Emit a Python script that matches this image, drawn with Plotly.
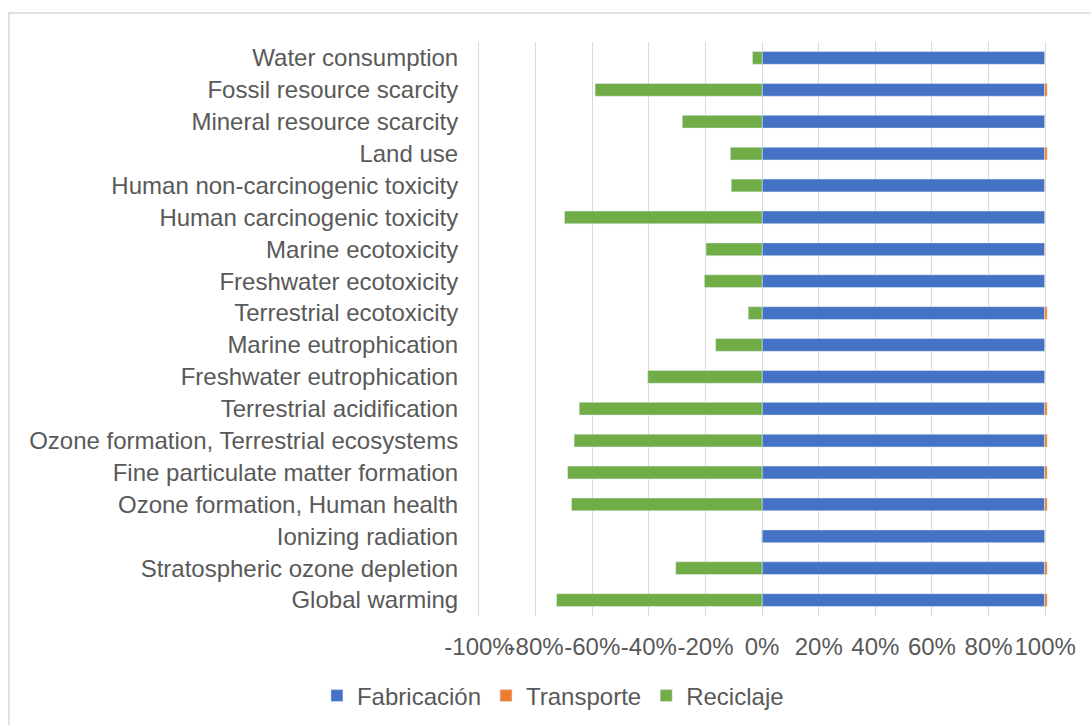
import plotly.graph_objects as go

categories = [
    "Global warming",
    "Stratospheric ozone depletion",
    "Ionizing radiation",
    "Ozone formation, Human health",
    "Fine particulate matter formation",
    "Ozone formation, Terrestrial ecosystems",
    "Terrestrial acidification",
    "Freshwater eutrophication",
    "Marine eutrophication",
    "Terrestrial ecotoxicity",
    "Freshwater ecotoxicity",
    "Marine ecotoxicity",
    "Human carcinogenic toxicity",
    "Human non-carcinogenic toxicity",
    "Land use",
    "Mineral resource scarcity",
    "Fossil resource scarcity",
    "Water consumption",
]

fabricacion = [99.8, 99.8, 99.9, 99.8, 99.8, 99.8, 99.8, 99.9, 99.9, 99.8, 99.9, 99.8,
               99.9, 99.8, 99.8, 99.9, 99.8, 99.9]
transporte = [0.9, 0.9, 0.1, 0.9, 0.9, 0.9, 0.9, 0.1, 0.1, 0.9, 0.1, 0.3,
              0.1, 0.3, 0.9, 0.1, 0.9, 0.1]
reciclaje = [-72.6, -30.5, -0.2, -67.3, -68.7, -66.4, -64.6, -40.4, -16.4, -4.9, -20.4, -19.8,
             -69.8, -10.9, -11.2, -28.2, -59.0, -3.4]

tick_vals = [-100, -80, -60, -40, -20, 0, 20, 40, 60, 80, 100]
tick_text = ["-100%", "-80%", "-60%", "-40%", "-20%", "0%", "20%", "40%", "60%", "80%", "100%"]

FONT = "Liberation Sans, Arial, sans-serif"
TXT = "#595959"
GRID = "#D9D9D9"

fig = go.Figure()
fig.add_trace(go.Bar(y=categories, x=fabricacion, name="Fabricación", orientation="h",
                     marker=dict(color="#4472C4")))
fig.add_trace(go.Bar(y=categories, x=transporte, name="Transporte", orientation="h",
                     marker=dict(color="#ED7D31")))
fig.add_trace(go.Bar(y=categories, x=reciclaje, name="Reciclaje", orientation="h",
                     marker=dict(color="#70AD47")))

W, H = 1091, 725
PX_PER_UNIT = 566 / 200.0
L, T, B = 479, 42, 109
R = 46 - PX_PER_UNIT * 1.0
pw = W - L - R
ph = H - T - B

def px_x(x):
    return (x - L) / pw

def px_y(y):
    return (H - B - y) / ph

fig.update_layout(
    width=W, height=H,
    margin=dict(l=L, r=R, t=T, b=B, autoexpand=False),
    barmode="relative",
    bargap=0.6,
    plot_bgcolor="white",
    paper_bgcolor="white",
    font=dict(family=FONT, size=24, color=TXT),
    showlegend=True,
    legend=dict(
        orientation="h",
        x=px_x(317), xanchor="left",
        y=px_y(696), yanchor="middle",
        font=dict(family=FONT, size=24, color=TXT),
        traceorder="normal",
        bgcolor="rgba(0,0,0,0)",
    ),
    xaxis=dict(
        range=[-100, 101],
        tickvals=tick_vals,
        ticktext=tick_text,
        tickangle=0,
        showgrid=True,
        gridcolor=GRID,
        gridwidth=1,
        zeroline=True,
        zerolinecolor=GRID,
        zerolinewidth=1,
        showline=False,
        ticks="",
        ticklabelstandoff=14,
        tickfont=dict(family=FONT, size=24, color=TXT),
        fixedrange=True,
    ),
    yaxis=dict(
        type="category",
        categoryorder="array",
        categoryarray=categories,
        showgrid=False,
        zeroline=False,
        showline=True,
        linecolor=GRID,
        linewidth=1,
        ticks="",
        ticklabelstandoff=15,
        tickfont=dict(family=FONT, size=24, color=TXT),
        fixedrange=True,
    ),
    shapes=[
        dict(type="rect", xref="paper", yref="paper",
             x0=px_x(9), x1=px_x(1100), y0=px_y(735), y1=px_y(13),
             line=dict(color=GRID, width=1.5), fillcolor="rgba(0,0,0,0)", layer="below"),
    ],
)

fig.write_html("out.html")
